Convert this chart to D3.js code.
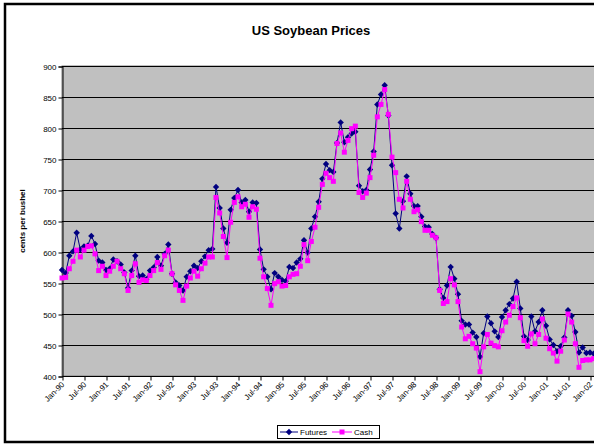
<!DOCTYPE html>
<html>
<head>
<meta charset="utf-8">
<script src="https://cdn.jsdelivr.net/npm/d3@7"></script>
<style>
  body { margin: 0; background: #fff; overflow: hidden; }
  text { font-family: Arial, "Liberation Sans", sans-serif; }
</style>
</head>
<body>
<div id="chart"></div>
<script>
// monthly prices, cents per bushel, Jan-90 .. Mar-02
var futures = [
  571, 566, 594, 601, 631, 604, 609, 610, 626, 613, 586, 583,
  571, 573, 588, 585, 580, 567, 542, 570, 594, 561, 562, 556,
  570, 575, 592, 578, 597, 612, 565, 551, 546, 538, 560, 569,
  578, 574, 585, 593, 603, 605, 705, 671, 638, 615, 668, 687,
  700, 680, 684, 665, 680, 679, 604, 572, 560, 540, 566, 560,
  555, 553, 576, 574, 583, 589, 619, 599, 638, 657, 681, 718,
  742, 732, 729, 776, 809, 777, 785, 791, 794, 707, 698, 700,
  733, 762, 838, 854, 869, 820, 740, 662, 638, 682, 722, 694,
  674, 674, 657, 641, 640, 629, 623, 540, 526, 546, 576, 557,
  532, 489, 483, 483, 470, 463, 431, 469, 496, 485, 472, 463,
  495, 506, 516, 525, 552, 509, 464, 458, 496, 472, 487, 506,
  481, 459, 450, 440, 448, 462, 506, 497, 471, 438, 446, 437,
  438, 436, 437
];
var cash = [
  558, 559, 573, 585, 603, 592, 603, 609, 610, 597, 570, 577,
  562, 569, 577, 585, 573, 565, 538, 562, 581, 551, 555, 554,
  562, 570, 583, 572, 594, 603, 565, 547, 538, 522, 545, 558,
  569, 561, 573, 582, 592, 592, 688, 663, 625, 591, 648, 680,
  689, 673, 677, 656, 673, 669, 590, 560, 541, 514, 549, 552,
  545, 546, 560, 564, 565, 577, 612, 586, 617, 640, 672, 709,
  727, 720, 714, 775, 792, 761, 780, 799, 803, 696, 688, 695,
  720, 756, 818, 838, 862, 822, 753, 728, 685, 671, 714, 685,
  665, 668, 649, 635, 635, 627, 623, 538, 517, 520, 557, 547,
  520, 479, 460, 464, 452, 445, 407, 447, 467, 453, 449, 447,
  473, 487, 498, 512, 526, 494, 457, 448, 468, 452, 467, 492,
  461, 444, 437, 424, 440, 458, 500, 487, 452, 414, 425, 426,
  426, 428, 428
];
var tickLabels = [
  "Jan-90", "Jul-90", "Jan-91", "Jul-91", "Jan-92", "Jul-92", "Jan-93", "Jul-93",
  "Jan-94", "Jul-94", "Jan-95", "Jul-95", "Jan-96", "Jul-96", "Jan-97", "Jul-97",
  "Jan-98", "Jul-98", "Jan-99", "Jul-99", "Jan-00", "Jul-00", "Jan-01", "Jul-01",
  "Jan-02"
];
var yTicks = [400, 450, 500, 550, 600, 650, 700, 750, 800, 850, 900];
var seriesNames = ["Futures", "Cash"];

var width = 594,
    height = 444;

var plotLeft = 62, plotTop = 66, plotBottom = 376;

var svg = d3.select("#chart")
    .append("svg")
    .attr("width", width)
    .attr("height", height)

// chart frame
svg.append("rect")
    .attr("x", 5).attr("y", 4)
    .attr("width", 640).attr("height", 438)
    .attr("fill", "#fff")
    .attr("stroke", "#000")
    .attr("stroke-width", 2.5)

var x = d3.scaleLinear().domain([0, 144]).range([plotLeft, 590])
var y = d3.scaleLinear().domain([400, 900]).range([plotBottom, plotTop])

// plot area
svg.append("rect")
    .attr("x", plotLeft).attr("y", plotTop)
    .attr("width", 600).attr("height", plotBottom - plotTop)
    .attr("fill", "#c0c0c0")
    .attr("stroke", "#808080")

// gridlines
svg.append("g").selectAll("line")
    .data(yTicks.slice(1))
    .enter().append("line")
    .attr("x1", plotLeft).attr("x2", width)
    .attr("y1", function (d) { return Math.round(y(d)) + 0.5 })
    .attr("y2", function (d) { return Math.round(y(d)) + 0.5 })
    .attr("stroke", "#000")
    .attr("stroke-width", 1)

// y axis
var yAxis = svg.append("g")
    .attr("transform", "translate(" + (plotLeft + 0.5) + ",0.5)")
    .call(d3.axisLeft(y).tickValues(yTicks).tickSize(4).tickPadding(2))
yAxis.select(".domain").attr("stroke", "#000")
yAxis.selectAll("text").attr("font-size", "8px").attr("fill", "#000")
    .attr("font-family", "Arial, 'Liberation Sans', sans-serif")

// x axis
var xTickVals = tickLabels.map(function (d, i) { return i * 6 })
var xAxis = svg.append("g")
    .attr("transform", "translate(0.5," + (plotBottom + 0.5) + ")")
    .call(d3.axisBottom(x).tickValues(xTickVals).tickSize(4).tickFormat(""))
xAxis.select(".domain").attr("d", "M" + plotLeft + ",0H" + width).attr("stroke", "#000")

svg.append("g").selectAll("text")
    .data(tickLabels)
    .enter().append("text")
    .attr("transform", function (d, i) {
        return "translate(" + (x(i * 6) + 3) + "," + (plotBottom + 9) + ") rotate(-45)"
    })
    .attr("text-anchor", "end")
    .attr("font-size", "8px")
    .text(function (d) { return d })

// series
var line = d3.line()
    .x(function (d, i) { return x(i) })
    .y(function (d) { return y(d) })

svg.append("path")
    .datum(futures)
    .attr("d", line)
    .attr("fill", "none")
    .attr("stroke", "#000080")
    .attr("stroke-width", 1)

svg.append("g").selectAll("path")
    .data(futures)
    .enter().append("path")
    .attr("d", d3.symbol(d3.symbolDiamond2, 26))
    .attr("transform", function (d, i) { return "translate(" + x(i) + "," + y(d) + ")" })
    .attr("fill", "#000080")

svg.append("path")
    .datum(cash)
    .attr("d", line)
    .attr("fill", "none")
    .attr("stroke", "#ff00ff")
    .attr("stroke-width", 1)

svg.append("g").selectAll("rect")
    .data(cash)
    .enter().append("rect")
    .attr("x", function (d, i) { return x(i) - 2.5 })
    .attr("y", function (d) { return y(d) - 2.5 })
    .attr("width", 5).attr("height", 5)
    .attr("fill", "#ff00ff")

// title and axis label
svg.append("text")
    .attr("x", 311).attr("y", 35)
    .attr("text-anchor", "middle")
    .attr("font-size", "13px")
    .attr("font-weight", "bold")
    .text("US Soybean Prices")

svg.append("text")
    .attr("transform", "translate(25,221) rotate(-90)")
    .attr("text-anchor", "middle")
    .attr("font-size", "8px")
    .attr("font-weight", "bold")
    .text("cents per bushel")

// legend
var legend = svg.append("g").attr("transform", "translate(277,425)")
legend.append("rect")
    .attr("x", 0.5).attr("y", 0.5)
    .attr("width", 102).attr("height", 13)
    .attr("fill", "#fff").attr("stroke", "#000")

legend.append("line").attr("x1", 3).attr("x2", 21).attr("y1", 7).attr("y2", 7)
    .attr("stroke", "#000080")
legend.append("path").attr("d", d3.symbol(d3.symbolDiamond2, 26))
    .attr("transform", "translate(12,7)").attr("fill", "#000080")
legend.append("text").attr("x", 23).attr("y", 10).attr("font-size", "8px").text(seriesNames[0])

legend.append("line").attr("x1", 55).attr("x2", 75).attr("y1", 7).attr("y2", 7)
    .attr("stroke", "#ff00ff")
legend.append("rect").attr("x", 62.5).attr("y", 4.5).attr("width", 5).attr("height", 5)
    .attr("fill", "#ff00ff")
legend.append("text").attr("x", 77).attr("y", 10).attr("font-size", "8px").text(seriesNames[1])
</script>
</body>
</html>
